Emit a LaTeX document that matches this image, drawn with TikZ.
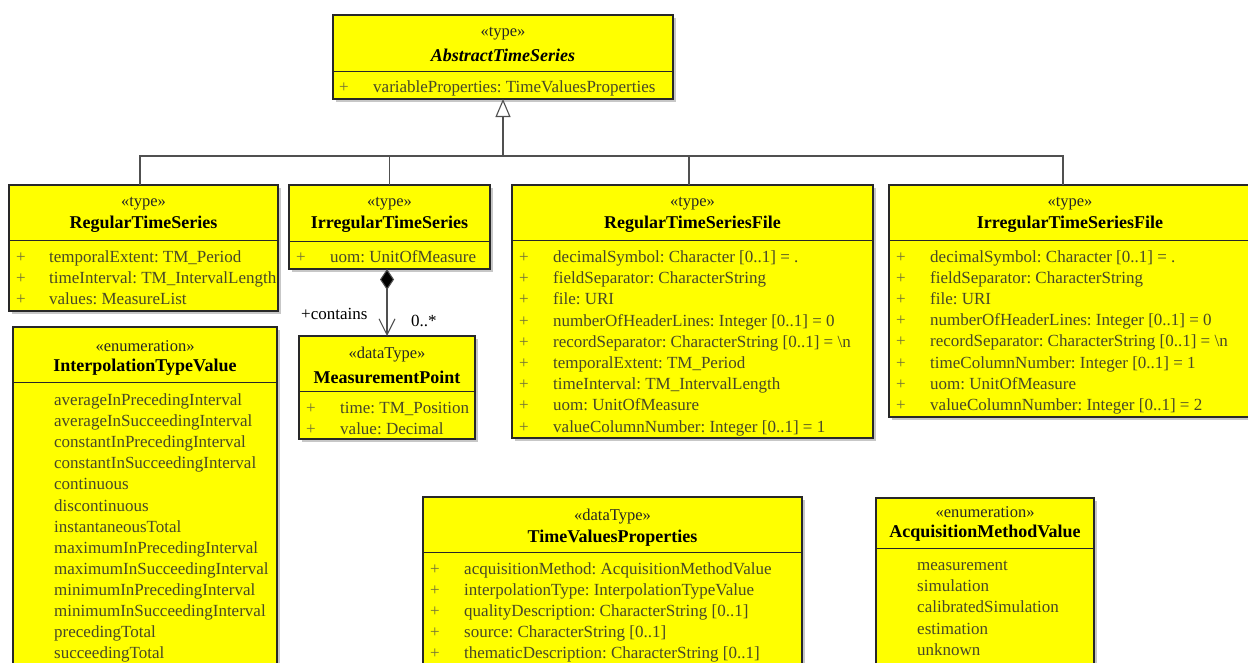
\documentclass[tikz,border=0pt]{standalone}
\usepackage{fontspec}
\setmainfont{Liberation Serif}
\usetikzlibrary{arrows.meta,shadows}
\definecolor{umlyellow}{RGB}{255,255,0}
\definecolor{attrc}{RGB}{72,72,40}
\definecolor{plusc}{RGB}{115,115,55}
\definecolor{linec}{RGB}{80,80,80}
\definecolor{borderc}{RGB}{40,40,40}
\newcommand{\tightsp}{\frenchspacing}
\tikzset{
  umlbox/.style={draw=borderc, line width=1.1pt, fill=umlyellow, anchor=north west, inner sep=0pt, outer sep=0pt,
    drop shadow={shadow xshift=2.5pt, shadow yshift=-2.5pt, fill=black, opacity=.22}},
  divline/.style={draw=borderc, line width=1pt},
  stereo/.style={font=\fontsize{16.5}{16.5}\selectfont, text=black!85, inner sep=0pt, anchor=center},
  cname/.style={font=\fontsize{18}{18}\selectfont\bfseries, inner sep=0pt, anchor=center},
  attr/.style={font=\fontsize{17}{17}\selectfont, text=attrc, inner sep=0pt, anchor=west, text height=12pt, text depth=1pt},
  plus/.style={font=\fontsize{17}{17}\selectfont, text=plusc, inner sep=0pt, anchor=west, text height=12pt, text depth=1pt},
  lbl/.style={font=\fontsize{17}{17}\selectfont, inner sep=0pt, anchor=west, text height=12pt, text depth=1pt},
  conn/.style={draw=linec, line width=1.1pt},
}
\newcommand{\umlattrs}[6]{%
  \foreach \t [count=\i] in {#6} {%
    \node[plus] (#1-p\i) at (#2,{#4+(\i-1)*#5}) {+};
    \node[attr] (#1-a\i) at (#3,{#4+(\i-1)*#5}) {\tightsp\t};
  }}
\newcommand{\umllits}[5]{%
  \foreach \t [count=\i] in {#5} {%
    \node[attr] (#1-l\i) at (#2,{#3+(\i-1)*#4}) {\t};
  }}
\begin{document}
\begin{tikzpicture}[x=1pt,y=-1pt]
\useasboundingbox (0,0) rectangle (1248,662);
\clip (0,0) rectangle (1248,662);

% ---------- AbstractTimeSeries
\node[umlbox, minimum width=340pt, minimum height=84pt] (ats) at (333,15) {};
\draw[divline] (ats.west |- 0,71) -- (ats.east |- 0,71);
\node[stereo] (ats-s) at (503,34) {«type»};
\node[cname, font=\fontsize{18}{18}\selectfont\bfseries\itshape] (ats-n) at (503,55) {AbstractTimeSeries};
\umlattrs{ats}{339}{373}{87}{21}{{variableProperties: TimeValuesProperties}}

% ---------- RegularTimeSeries
\node[umlbox, minimum width=269pt, minimum height=126pt] (rts) at (9,185) {};
\draw[divline] (rts.west |- 0,240) -- (rts.east |- 0,240);
\node[stereo] (rts-s) at (143.5,204) {«type»};
\node[cname] (rts-n) at (143.5,224) {RegularTimeSeries};
\umlattrs{rts}{16}{49}{257}{20.8}{{temporalExtent: TM\_Period},{timeInterval: TM\_IntervalLength},{values: MeasureList}}

% ---------- IrregularTimeSeries
\node[umlbox, minimum width=201pt, minimum height=84pt] (its) at (289,185) {};
\draw[divline] (its.west |- 0,241) -- (its.east |- 0,241);
\node[stereo] (its-s) at (389.5,204) {«type»};
\node[cname] (its-n) at (389.5,224) {IrregularTimeSeries};
\umlattrs{its}{296}{330}{257}{21}{{uom: UnitOfMeasure}}

% ---------- RegularTimeSeriesFile
\node[umlbox, minimum width=361pt, minimum height=253pt] (rtsf) at (512,185) {};
\draw[divline] (rtsf.west |- 0,240) -- (rtsf.east |- 0,240);
\node[stereo] (rtsf-s) at (692.5,204) {«type»};
\node[cname] (rtsf-n) at (692.5,224) {RegularTimeSeriesFile};
\umlattrs{rtsf}{519}{553}{257}{21.2}{{decimalSymbol: Character [0..1] = .},{fieldSeparator: CharacterString},{file: URI},{numberOfHeaderLines: Integer [0..1] = 0},{recordSeparator: CharacterString [0..1] = \textbackslash n},{temporalExtent: TM\_Period},{timeInterval: TM\_IntervalLength},{uom: UnitOfMeasure},{valueColumnNumber: Integer [0..1] = 1}}

% ---------- IrregularTimeSeriesFile
\node[umlbox, minimum width=362pt, minimum height=232pt] (itsf) at (889,185) {};
\draw[divline] (itsf.west |- 0,240) -- (itsf.east |- 0,240);
\node[stereo] (itsf-s) at (1070,204) {«type»};
\node[cname] (itsf-n) at (1070,224) {IrregularTimeSeriesFile};
\umlattrs{itsf}{896}{930}{257}{21.1}{{decimalSymbol: Character [0..1] = .},{fieldSeparator: CharacterString},{file: URI},{numberOfHeaderLines: Integer [0..1] = 0},{recordSeparator: CharacterString [0..1] = \textbackslash n},{timeColumnNumber: Integer [0..1] = 1},{uom: UnitOfMeasure},{valueColumnNumber: Integer [0..1] = 2}}

% ---------- InterpolationTypeValue
\node[umlbox, minimum width=264pt, minimum height=380pt] (itv) at (13,327) {};
\draw[divline] (itv.west |- 0,382) -- (itv.east |- 0,382);
\node[stereo] (itv-s) at (145,346) {«enumeration»};
\node[cname] (itv-n) at (145,367) {InterpolationTypeValue};
\umllits{itv}{54}{400}{21.1}{averageInPrecedingInterval,averageInSucceedingInterval,constantInPrecedingInterval,constantInSucceedingInterval,continuous,discontinuous,instantaneousTotal,maximumInPrecedingInterval,maximumInSucceedingInterval,minimumInPrecedingInterval,minimumInSucceedingInterval,precedingTotal,succeedingTotal}

% ---------- MeasurementPoint
\node[umlbox, minimum width=176pt, minimum height=103pt] (mp) at (299,336) {};
\draw[divline] (mp.west |- 0,391) -- (mp.east |- 0,391);
\node[stereo] (mp-s) at (387,355) {«dataType»};
\node[cname] (mp-n) at (387,377) {MeasurementPoint};
\umlattrs{mp}{306}{340}{408}{20.5}{{time: TM\_Position},{value: Decimal}}

% ---------- TimeValuesProperties
\node[umlbox, minimum width=379pt, minimum height=220pt] (tvp) at (423,497) {};
\draw[divline] (tvp.west |- 0,552) -- (tvp.east |- 0,552);
\node[stereo] (tvp-s) at (612.5,517) {«dataType»};
\node[cname] (tvp-n) at (612.5,538) {TimeValuesProperties};
\umlattrs{tvp}{430}{464}{569}{21}{{acquisitionMethod: AcquisitionMethodValue},{interpolationType: InterpolationTypeValue},{qualityDescription: CharacterString [0..1]},{source: CharacterString [0..1]},{thematicDescription: CharacterString [0..1]}}

% ---------- AcquisitionMethodValue
\node[umlbox, minimum width=218pt, minimum height=220pt] (amv) at (876,498) {};
\draw[divline] (amv.west |- 0,548) -- (amv.east |- 0,548);
\node[stereo] (amv-s) at (985,512) {«enumeration»};
\node[cname] (amv-n) at (985,533) {AcquisitionMethodValue};
\umllits{amv}{917}{565}{21.2}{measurement,simulation,calibratedSimulation,estimation,unknown}

% ---------- Generalization
\coordinate (bar) at (503,156);
\draw[conn, -{Triangle[open, length=18pt, width=15pt, fill=white]}] (bar) -- (ats.south);
\draw[conn] ([xshift=-3.5pt]rts.north) |- ([xshift=-7pt]itsf.north |- bar) -- ([xshift=-7pt]itsf.north);
\draw[conn] (its.north) -- (its.north |- bar);
\draw[conn] ([xshift=-3.5pt]rtsf.north) -- ([xshift=-3.5pt]rtsf.north |- bar);

% ---------- Composition
\draw[conn, {Diamond[length=21pt, width=14pt, fill=black]}-{Straight Barb[length=16pt, width=16pt]}] (its.south -| mp.north) -- (mp.north);
\node[lbl, text=black] (contains) at (301,314) {+contains};
\node[lbl, text=black] (mult) at (411,321) {0..*};
\end{tikzpicture}
\end{document}
